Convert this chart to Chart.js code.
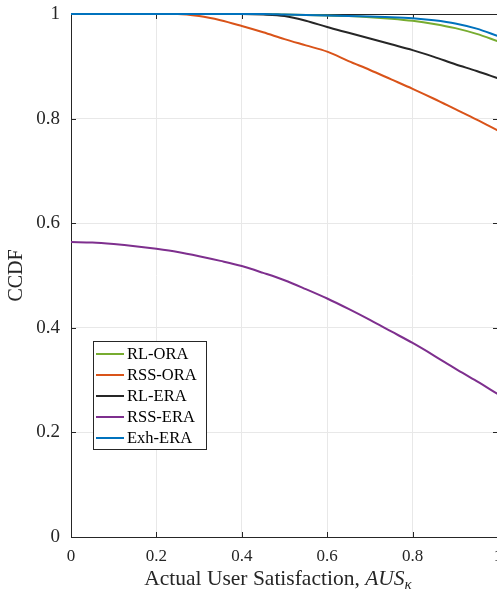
<!DOCTYPE html>
<html lang="en">
<head>
<meta charset="UTF-8">
<title>CCDF of actual user satisfaction</title>
<script src="https://cdn.jsdelivr.net/npm/chart.js@4"></script>
<style>
  html, body { margin: 0; padding: 0; background: #fff; overflow: hidden; }
  #wrap { width: 600px; height: 592px; }
</style>
</head>
<body>
<div id="wrap"><canvas id="c" width="600" height="592"></canvas></div>
<script>
  // x grid of the curves (AUS_kappa)
  const xs = [0, 0.05, 0.1, 0.15, 0.2, 0.25, 0.3, 0.35, 0.4, 0.45, 0.5,
              0.55, 0.6, 0.65, 0.7, 0.75, 0.8, 0.85, 0.9, 0.95, 1];

  const rlOra  = [1, 1, 1, 1, 1, 1, 1, 1, 1, 1, 0.999,
                  0.998, 0.997, 0.996, 0.994, 0.991, 0.987, 0.981, 0.973, 0.962, 0.948];
  const rssOra = [1, 1, 1, 1, 1, 1, 0.996, 0.988, 0.977, 0.965, 0.952,
                  0.94, 0.928, 0.91, 0.893, 0.875, 0.857, 0.838, 0.818, 0.798, 0.777];
  const rlEra  = [1, 1, 1, 1, 1, 1, 1, 1, 1, 0.999, 0.996,
                  0.987, 0.975, 0.964, 0.953, 0.942, 0.931, 0.918, 0.904, 0.891, 0.877];
  const rssEra = [0.564, 0.563, 0.56, 0.556, 0.551, 0.545, 0.537, 0.528, 0.518, 0.505, 0.491,
                  0.474, 0.456, 0.436, 0.415, 0.393, 0.371, 0.347, 0.322, 0.298, 0.273];
  const exhEra = [1, 1, 1, 1, 1, 1, 1, 1, 1, 1, 0.999,
                  0.998, 0.997, 0.996, 0.995, 0.994, 0.992, 0.988, 0.982, 0.972, 0.958];

  const seriesNames = ['RL-ORA', 'RSS-ORA', 'RL-ERA', 'RSS-ERA', 'Exh-ERA'];
  const seriesData = [rlOra, rssOra, rlEra, rssEra, exhEra];
  const seriesColors = ['#77AC30', '#D95319', '#262626', '#7E2F8E', '#0072BD'];

  const xTickValues = [0, 0.2, 0.4, 0.6, 0.8, 1];
  const xTickLabels = ['0', '0.2', '0.4', '0.6', '0.8', '1'];
  const yTickValues = [0, 0.2, 0.4, 0.6, 0.8, 1];
  const yTickLabels = ['0', '0.2', '0.4', '0.6', '0.8', '1'];

  const SERIF = '"Liberation Serif", "Times New Roman", serif';
  const AXIS = '#262626';

  const boxPlugin = {
    id: 'box',
    beforeDatasetsDraw(chart) {
      const { ctx, chartArea: a, scales: { x, y } } = chart;
      ctx.save();
      ctx.strokeStyle = AXIS;
      ctx.lineWidth = 1;
      ctx.beginPath();
      ctx.moveTo(a.left, a.top + 0.5); ctx.lineTo(a.right, a.top + 0.5);
      ctx.moveTo(a.right - 0.5, a.top); ctx.lineTo(a.right - 0.5, a.bottom);
      xTickValues.forEach(v => {
        const p = Math.round(x.getPixelForValue(v)) + 0.5;
        ctx.moveTo(p, a.bottom); ctx.lineTo(p, a.bottom - 5);
        ctx.moveTo(p, a.top); ctx.lineTo(p, a.top + 5);
      });
      yTickValues.forEach(v => {
        const p = Math.round(y.getPixelForValue(v)) + 0.5;
        ctx.moveTo(a.left, p); ctx.lineTo(a.left + 5, p);
        ctx.moveTo(a.right, p); ctx.lineTo(a.right - 5, p);
      });
      ctx.stroke();
      ctx.restore();
    },
    afterDraw(chart) {
      const { ctx } = chart;
      ctx.save();

      // x-axis title with italic AUS and subscript kappa
      const parts = [
        { t: 'Actual User Satisfaction, ', f: '21.5px ' + SERIF, dy: 0 },
        { t: 'AUS', f: 'italic 21.5px ' + SERIF, dy: 0 },
        { t: '\u03BA', f: 'italic 15px ' + SERIF, dy: 4 }
      ];
      let total = 0;
      parts.forEach(p => { ctx.font = p.f; p.w = ctx.measureText(p.t).width; total += p.w; });
      let cx = 278 - total / 2;
      ctx.fillStyle = AXIS;
      ctx.textBaseline = 'alphabetic';
      ctx.textAlign = 'left';
      parts.forEach(p => { ctx.font = p.f; ctx.fillText(p.t, cx, 585 + p.dy); cx += p.w; });

      // legend box inside the axes
      const lx = 93, ly = 341, lw = 113, lh = 108, row = 21;
      ctx.fillStyle = '#fff';
      ctx.fillRect(lx, ly, lw, lh);
      ctx.strokeStyle = AXIS;
      ctx.lineWidth = 1;
      ctx.strokeRect(lx + 0.5, ly + 0.5, lw, lh);
      ctx.font = '16.5px ' + SERIF;
      ctx.textBaseline = 'middle';
      seriesNames.forEach((name, i) => {
        const cy = ly + 13 + i * row;
        ctx.strokeStyle = seriesColors[i];
        ctx.lineWidth = 2;
        ctx.beginPath();
        ctx.moveTo(lx + 3, cy); ctx.lineTo(lx + 31, cy);
        ctx.stroke();
        ctx.fillStyle = '#000';
        ctx.fillText(name, lx + 34, cy + 1);
      });
      ctx.restore();
    }
  };

  const datasets = seriesNames.map((name, i) => ({
    label: name,
    data: xs.map((x, j) => ({ x: x, y: seriesData[i][j] })),
    borderColor: seriesColors[i],
    backgroundColor: seriesColors[i],
    borderWidth: 2,
    pointRadius: 0,
    cubicInterpolationMode: 'monotone',
    fill: false,
    order: seriesNames.length - i,
    clip: { left: 0, top: 3, right: 0, bottom: 0 }
  }));

  new Chart(document.getElementById('c'), {
    type: 'line',
    data: { datasets: datasets },
    options: {
      responsive: false,
      animation: false,
      layout: { padding: { left: 0, top: 14, right: 102, bottom: 0 } },
      plugins: { legend: { display: false }, tooltip: { enabled: false } },
      scales: {
        x: {
          type: 'linear',
          min: 0, max: 1,
          afterBuildTicks: s => { s.ticks = xTickValues.map(v => ({ value: v })); },
          afterFit: s => { s.height = 55; s.paddingLeft = 0; s.paddingRight = 0; },
          ticks: {
            callback: (v, i) => xTickLabels[i],
            font: { family: SERIF, size: 17 },
            color: AXIS,
            padding: 9,
            maxRotation: 0
          },
          grid: { color: '#e8e8e8', drawTicks: false },
          border: { display: true, color: AXIS, width: 1 }
        },
        y: {
          min: 0, max: 1,
          afterBuildTicks: s => { s.ticks = yTickValues.map(v => ({ value: v })); },
          afterFit: s => { s.width = 71; s.paddingTop = 0; s.paddingBottom = 0; },
          ticks: {
            callback: (v, i) => yTickLabels[i],
            font: { family: SERIF, size: 19 },
            color: AXIS,
            padding: 11
          },
          title: {
            display: true,
            text: 'CCDF',
            font: { family: SERIF, size: 20 },
            color: AXIS,
            padding: { top: 5, bottom: 0 }
          },
          grid: { color: '#e8e8e8', drawTicks: false },
          border: { display: true, color: AXIS, width: 1 }
        }
      }
    },
    plugins: [boxPlugin]
  });
</script>
</body>
</html>
